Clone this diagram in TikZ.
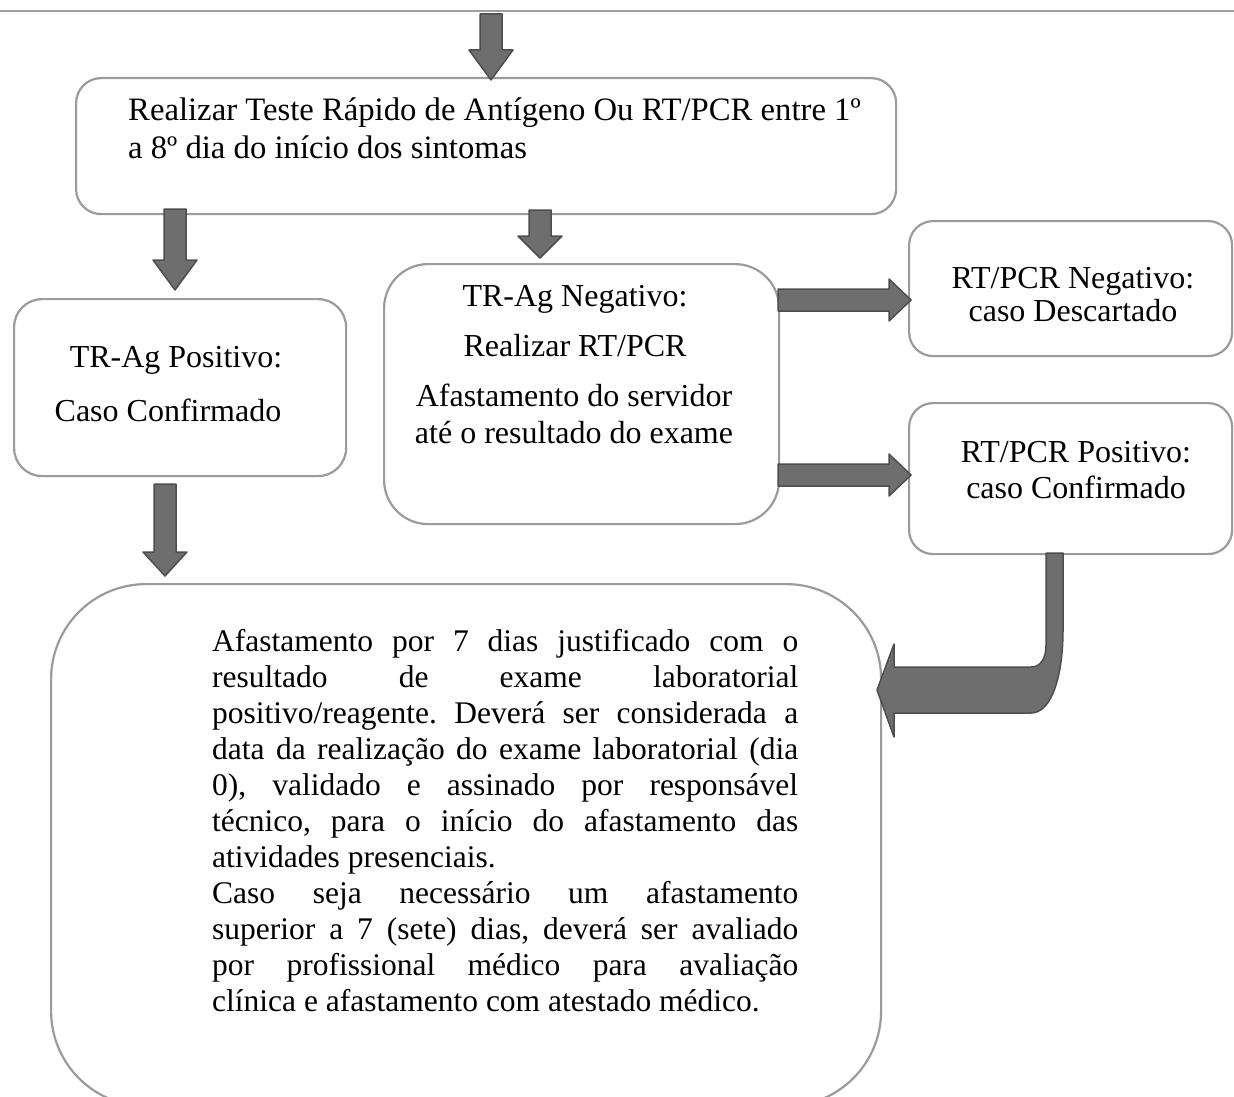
\documentclass[tikz,border=0pt]{standalone}
\usepackage{fontspec}
\setmainfont{Liberation Serif}
\frenchspacing
\definecolor{boxgray}{RGB}{155,155,155}
\definecolor{arrowfill}{RGB}{110,110,110}
\definecolor{arrowedge}{RGB}{78,78,78}
\definecolor{linegray}{RGB}{160,160,160}
\newcommand{\darrow}[4]{% cx, ytop, yhead, ytip
  \draw[blockarrow] (#1-11,#2) -- (#1+11,#2) -- (#1+11,#3) -- (#1+22,#3) -- (#1,#4) -- (#1-22,#3) -- (#1-11,#3) -- cycle;}
\newcommand{\rarrow}[4]{% yc, xstart, xhead, xtip
  \draw[blockarrow] (#2,#1-11) -- (#3,#1-11) -- (#3,#1-21) -- (#4,#1) -- (#3,#1+21) -- (#3,#1+11) -- (#2,#1+11) -- cycle;}
\newcommand{\jline}[1]{\makebox[586pt][s]{#1}}
\begin{document}
\begin{tikzpicture}[x=1pt,y=-1pt,
  box/.style={draw=boxgray, line width=2.2pt, fill=white, inner sep=0pt, anchor=north west},
  blockarrow/.style={fill=arrowfill, draw=arrowedge, line width=1.5pt, line join=round},
  txt/.style={inner sep=0pt, font=\fontsize{32}{37}\selectfont, anchor=base},
  txtl/.style={txt, anchor=base west, font=\fontsize{32.7}{37}\selectfont}]
\useasboundingbox (0,0) rectangle (1234,1097);
% top rule
\draw[linegray, line width=2.5pt] (0,11) -- (1234,11);
% boxes
\node[box, rounded corners=25pt, minimum width=820pt, minimum height=136pt] (top) at (75,77) {};
\node[box, rounded corners=28pt, minimum width=332pt, minimum height=177pt] (pos) at (13,298) {};
\node[box, rounded corners=44pt, minimum width=395pt, minimum height=260pt] (neg) at (383,263) {};
\node[box, rounded corners=24pt, minimum width=323pt, minimum height=135pt] (rneg) at (908,220) {};
\node[box, rounded corners=24pt, minimum width=323pt, minimum height=151pt] (rpos) at (908,402) {};
\node[box, rounded corners=95pt, minimum width=830pt, minimum height=522pt] (big) at (50,583) {};
% arrows
\darrow{491}{14}{50}{80}
\darrow{175}{209}{260}{290}
\darrow{540}{210}{236}{258}
\darrow{165}{484}{552}{576}
\rarrow{300}{778}{889}{911}
\rarrow{475}{778}{889}{911}
\draw[blockarrow] (1046,553) -- (1046,645) .. controls (1046,658) and (1041,667) .. (1031,667)
  -- (894,667) -- (894,644) -- (877,690) -- (894,737) -- (894,713) -- (1031,713)
  .. controls (1052,713) and (1063,675) .. (1063,630) -- (1063,553) -- cycle;
% texts
\node[txtl] (t1) at (128,121) {Realizar Teste Rápido de Antígeno Ou RT/PCR entre 1º};
\node[txtl] (t2) at (128,158) {a 8º dia do início dos sintomas};
\node[txt] (p1) at (176,367) {TR-Ag Positivo:};
\node[txt] (p2) at (168,421) {Caso Confirmado};
\node[txt] (n1) at (575,306) {TR-Ag Negativo:};
\node[txt] (n2) at (575,356) {Realizar RT/PCR};
\node[txt] (n3) at (574,406) {Afastamento do servidor};
\node[txt] (n4) at (574,443) {até o resultado do exame};
\node[txt] (rn1) at (1073,288) {RT/PCR Negativo:};
\node[txt] (rn2) at (1073,321) {caso Descartado};
\node[txt] (rp1) at (1076,462) {RT/PCR Positivo:};
\node[txt] (rp2) at (1076,498) {caso Confirmado};
\node[inner sep=0pt, anchor=north west, text width=586pt, align=justify,
      font=\fontsize{31.5}{36}\selectfont] (bigT) at (212,629)
 {\jline{Afastamento por 7 dias justificado com o}\\
  \jline{resultado de exame laboratorial}\\
  \jline{positivo/reagente. Deverá ser considerada a}\\
  \jline{data da realização do exame laboratorial (dia}\\
  \jline{0), validado e assinado por responsável}\\
  \jline{técnico, para o início do afastamento das}\\
  atividades presenciais.\\
  \jline{Caso seja necessário um afastamento}\\
  \jline{superior a 7 (sete) dias, deverá ser avaliado}\\
  \jline{por profissional médico para avaliação}\\
  clínica e afastamento com atestado médico.};
\end{tikzpicture}
\end{document}
